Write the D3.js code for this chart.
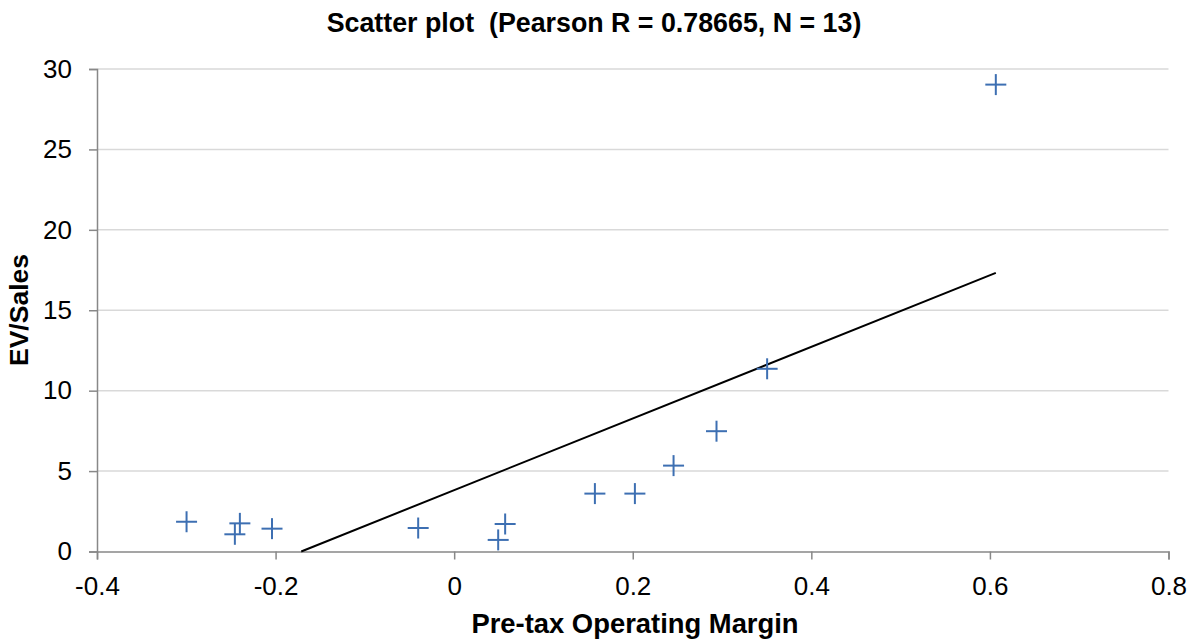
<!DOCTYPE html>
<html><head><meta charset="utf-8">
<script src="https://cdn.jsdelivr.net/npm/d3@7"></script>
<style>body{margin:0;background:#fff;}svg{display:block;font-family:"Liberation Sans",Arial,Helvetica,sans-serif;}</style>
</head><body>
<svg id="c" width="1197" height="642"></svg>
<script>
const margin = [-0.2997,-0.2456,-0.240,-0.204,-0.0403,0.0493,0.0571,0.1576,0.2024,0.2457,0.2938,0.3505,0.6066];
const evSales = [1.85,1.07,1.75,1.42,1.46,0.72,1.71,3.6,3.6,5.34,7.48,11.36,29.03];
const xTicks = [-0.4,-0.2,0,0.2,0.4,0.6,0.8];
const yTicks = [0,5,10,15,20,25,30];
const title = "Scatter plot  (Pearson R = 0.78665, N = 13)";
const xLabel = "Pre-tax Operating Margin";
const yLabel = "EV/Sales";

const svg = d3.select("#c");
const L=97,R=1168.5,T=69,B=551.5;
const x = d3.scaleLinear().domain([-0.4,0.8]).range([L,R]);
const y = d3.scaleLinear().domain([0,30]).range([B,T]);

// gridlines
svg.append("g").selectAll("line").data(yTicks.filter(d=>d>0)).join("line")
  .attr("x1",L).attr("x2",R).attr("y1",d=>y(d)).attr("y2",d=>y(d))
  .attr("stroke","#d9d9d9").attr("stroke-width",1.5);

// axes
const xa = svg.append("g").attr("transform",`translate(0,${B})`)
  .call(d3.axisBottom(x).tickValues(xTicks).tickSize(8).tickPadding(17).tickFormat(d=>d===0?"0":String(d)));
const ya = svg.append("g").attr("transform",`translate(${L},0)`)
  .call(d3.axisLeft(y).tickValues(yTicks).tickSize(8).tickPadding(17));
[xa,ya].forEach(g=>{
  g.attr("font-size",26).attr("font-family","Liberation Sans, Arial, sans-serif");
  g.select(".domain").attr("stroke","#888").attr("stroke-width",1.5);
  g.selectAll(".tick line").attr("stroke","#888").attr("stroke-width",1.5);
  g.selectAll(".tick text").attr("fill","#000");
});

// regression line
const n = margin.length;
const mx = d3.mean(margin), my = d3.mean(evSales);
let sxy=0,sxx=0;
for(let i=0;i<n;i++){sxy+=(margin[i]-mx)*(evSales[i]-my);sxx+=(margin[i]-mx)**2;}
const slope = sxy/sxx, icpt = my-slope*mx;
const x0 = Math.max(d3.min(margin), -icpt/slope), x1 = d3.max(margin);
svg.append("line").attr("x1",x(x0)).attr("y1",y(slope*x0+icpt)).attr("x2",x(x1)).attr("y2",y(slope*x1+icpt))
  .attr("stroke","#000").attr("stroke-width",2);

// points
const pts = svg.append("g").selectAll("g").data(d3.zip(margin,evSales)).join("g")
  .attr("transform",d=>`translate(${x(d[0])},${y(d[1])})`);
pts.append("line").attr("x1",-10.5).attr("x2",10.5).attr("stroke","#3d6fb2").attr("stroke-width",2);
pts.append("line").attr("y1",-10.5).attr("y2",10.5).attr("stroke","#3d6fb2").attr("stroke-width",2);

// texts
svg.append("text").attr("x",594).attr("y",32).attr("text-anchor","middle").attr("font-weight","bold")
  .attr("font-size",26.8).style("white-space","pre").text(title);
svg.append("text").attr("x",635).attr("y",633).attr("text-anchor","middle").attr("font-weight","bold").attr("font-size",27.4).text(xLabel);
svg.append("text").attr("transform","translate(28,310) rotate(-90)").attr("text-anchor","middle").attr("font-weight","bold").attr("font-size",26.5).text(yLabel);
</script>
</body></html>
